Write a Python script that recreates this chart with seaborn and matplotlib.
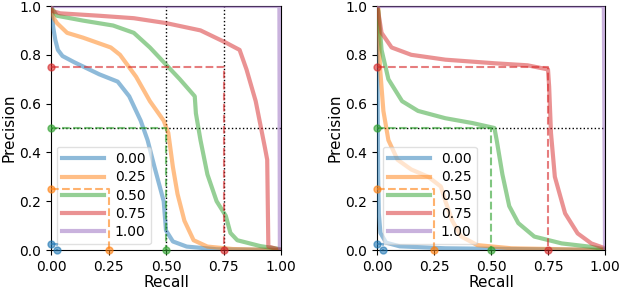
import numpy as np
import pandas as pd
import matplotlib
matplotlib.use("Agg")
import matplotlib.pyplot as plt
import seaborn as sns

labels = ["0.00", "0.25", "0.50", "0.75", "1.00"]
marks = [0.025, 0.25, 0.5, 0.75]
colors = sns.color_palette("tab10", 5)

# Left panel curves (recall, precision)
L_blue_x = [0.0, 0.004, 0.01, 0.019, 0.03, 0.05, 0.10, 0.21, 0.29, 0.34, 0.39, 0.42, 0.45, 0.49, 0.50, 0.53, 0.59, 0.72, 1.0]
L_blue_y = [1.0, 0.97, 0.91, 0.86, 0.82, 0.795, 0.77, 0.72, 0.69, 0.63, 0.53, 0.45, 0.34, 0.20, 0.08, 0.035, 0.014, 0.003, 0.0]
L_orange_x = [0.0, 0.004, 0.012, 0.026, 0.07, 0.14, 0.26, 0.30, 0.37, 0.43, 0.49, 0.51, 0.53, 0.55, 0.58, 0.62, 0.68, 0.79, 1.0]
L_orange_y = [1.0, 0.98, 0.95, 0.93, 0.89, 0.87, 0.83, 0.80, 0.71, 0.61, 0.53, 0.48, 0.34, 0.23, 0.12, 0.04, 0.014, 0.004, 0.0]
L_green_x = [0.0, 0.004, 0.026, 0.14, 0.27, 0.36, 0.43, 0.50, 0.56, 0.625, 0.63, 0.65, 0.68, 0.72, 0.76, 0.78, 0.81, 0.91, 1.0]
L_green_y = [1.0, 0.99, 0.96, 0.94, 0.92, 0.89, 0.83, 0.76, 0.70, 0.63, 0.56, 0.45, 0.31, 0.20, 0.14, 0.07, 0.04, 0.016, 0.003]
L_red_x = [0.0, 0.004, 0.04, 0.21, 0.36, 0.50, 0.65, 0.76, 0.82, 0.85, 0.89, 0.93, 0.94, 0.945, 1.0]
L_red_y = [1.0, 0.98, 0.97, 0.96, 0.95, 0.93, 0.90, 0.85, 0.82, 0.74, 0.61, 0.42, 0.37, 0.014, 0.0]
L_purple_x = [0.0, 0.993, 0.995, 1.0]
L_purple_y = [1.0, 1.0, 0.01, 0.0]

# Right panel curves
R_blue_x = [0.0, 0.003, 0.005, 0.008, 0.015, 0.04, 0.10, 0.30, 0.60, 1.0]
R_blue_y = [1.0, 0.60, 0.30, 0.15, 0.07, 0.03, 0.015, 0.007, 0.004, 0.0]
R_orange_x = [0.0, 0.006, 0.013, 0.028, 0.05, 0.09, 0.15, 0.225, 0.28, 0.30, 0.33, 0.37, 0.44, 0.59, 1.0]
R_orange_y = [1.0, 0.99, 0.75, 0.57, 0.45, 0.37, 0.33, 0.30, 0.26, 0.20, 0.12, 0.055, 0.02, 0.007, 0.0]
R_green_x = [0.0, 0.006, 0.02, 0.05, 0.11, 0.18, 0.30, 0.42, 0.515, 0.525, 0.55, 0.58, 0.62, 0.69, 0.81, 0.93, 1.0]
R_green_y = [1.0, 0.98, 0.82, 0.70, 0.61, 0.57, 0.54, 0.52, 0.50, 0.45, 0.31, 0.18, 0.11, 0.055, 0.027, 0.014, 0.003]
R_red_x = [0.0, 0.003, 0.02, 0.064, 0.15, 0.30, 0.52, 0.66, 0.75, 0.755, 0.763, 0.78, 0.825, 0.88, 0.94, 1.0]
R_red_y = [1.0, 0.99, 0.89, 0.83, 0.80, 0.78, 0.765, 0.757, 0.74, 0.67, 0.48, 0.30, 0.15, 0.068, 0.027, 0.007]
R_purple_x = [0.0, 0.99, 0.995, 1.0]
R_purple_y = [1.0, 1.0, 0.99, 0.0]

left = [(L_blue_x, L_blue_y), (L_orange_x, L_orange_y), (L_green_x, L_green_y),
        (L_red_x, L_red_y), (L_purple_x, L_purple_y)]
right = [(R_blue_x, R_blue_y), (R_orange_x, R_orange_y), (R_green_x, R_green_y),
         (R_red_x, R_red_y), (R_purple_x, R_purple_y)]

plt.rcParams['font.size'] = 10
fig = plt.figure(figsize=(6.24, 2.92), dpi=100)
ax1 = fig.add_axes([51/624, 1-250/292, 230/624, 244/292])
ax2 = fig.add_axes([377/624, 1-250/292, 228/624, 244/292])


def make_df(curves):
    rows = []
    for lab, (xs, ys) in zip(labels, curves):
        for i, (x, y) in enumerate(zip(xs, ys)):
            rows.append({"Recall": x, "Precision": y, "thr": lab, "i": i})
    return pd.DataFrame(rows)


def draw(ax, curves, vlines):
    for v in vlines:
        ax.axvline(v, color="black", ls=":", lw=1, zorder=1)
    ax.axhline(0.5, color="black", ls=":", lw=1, zorder=1)
    for m, c in zip(marks, colors):
        ax.plot([0, m, m], [m, m, 0], ls="--", color=c, alpha=0.6, lw=1.5, zorder=6)
        ax.plot([0, m], [m, 0], ls="none", marker="o", ms=5, color=c, alpha=0.6,
                clip_on=False, zorder=7)
    df = make_df(curves)
    sns.lineplot(data=df, x="Recall", y="Precision", hue="thr", palette=colors,
                 sort=False, estimator=None, units="thr", lw=3, alpha=0.5, ax=ax, zorder=3)
    ax.set_xlim(0, 1)
    ax.set_ylim(0, 1)
    ax.set_xticks([0, 0.25, 0.5, 0.75, 1.0])
    ax.set_xticklabels(["0.00", "0.25", "0.50", "0.75", "1.00"])
    ax.set_yticks([0, 0.2, 0.4, 0.6, 0.8, 1.0])
    ax.set_xlabel("Recall", fontsize=11, labelpad=1)
    ax.set_ylabel("Precision", fontsize=11, labelpad=2)
    leg = ax.legend(loc="lower left", handlelength=3.0, framealpha=0.6,
                    borderaxespad=0.4, labelspacing=0.3)
    for h in leg.get_lines():
        h.set_linewidth(3)
        h.set_alpha(0.5)


draw(ax1, left, [0.5, 0.75])
draw(ax2, right, [])

fig.savefig("out.png", dpi=100)
